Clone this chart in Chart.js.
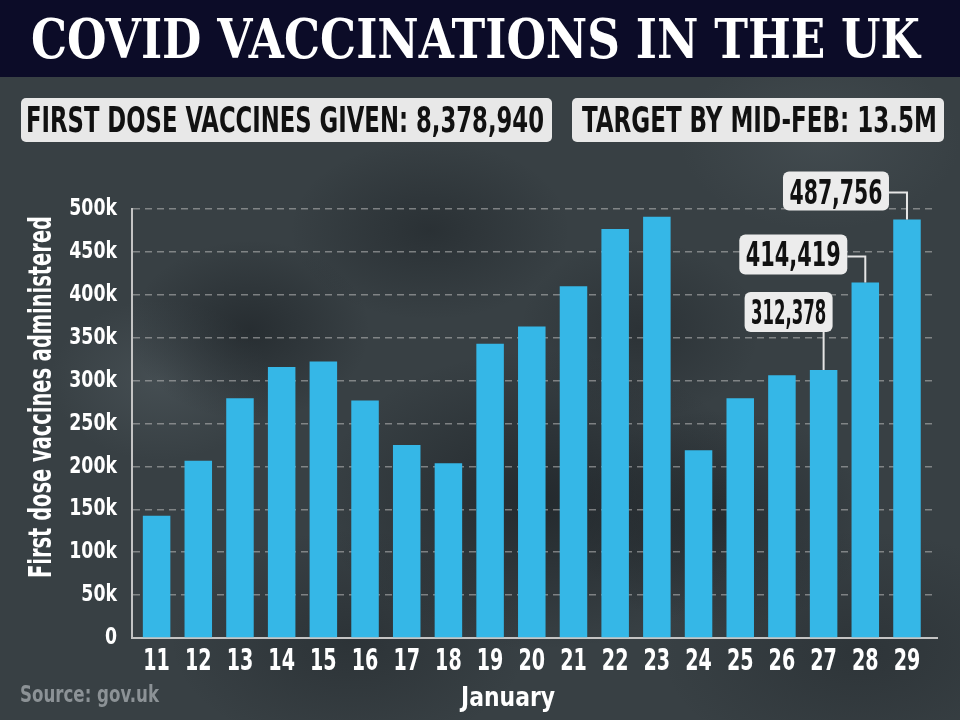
<!DOCTYPE html>
<html>
<head>
<meta charset="utf-8">
<script src="https://cdn.jsdelivr.net/npm/chart.js@4.4.1/dist/chart.umd.min.js"></script>
<style>
  html, body { margin: 0; padding: 0; }
  body {
    width: 960px; height: 720px; overflow: hidden; position: relative;
    background-color: #384044;
    background-image:
      radial-gradient(ellipse 120px 90px at 250px 330px, rgba(25,30,34,0.55), rgba(25,30,34,0) 100%),
      radial-gradient(ellipse 220px 150px at 540px 500px, rgba(22,27,31,0.6), rgba(22,27,31,0) 100%),
      radial-gradient(ellipse 150px 110px at 720px 520px, rgba(25,30,34,0.5), rgba(25,30,34,0) 100%),
      radial-gradient(ellipse 140px 90px at 430px 230px, rgba(25,30,34,0.45), rgba(25,30,34,0) 100%),
      radial-gradient(ellipse 120px 90px at 640px 330px, rgba(25,30,34,0.4), rgba(25,30,34,0) 100%),
      radial-gradient(ellipse 110px 80px at 160px 380px, rgba(85,95,100,0.45), rgba(85,95,100,0) 100%),
      radial-gradient(ellipse 140px 90px at 820px 140px, rgba(85,95,100,0.35), rgba(85,95,100,0) 100%),
      radial-gradient(ellipse 180px 110px at 350px 640px, rgba(30,35,39,0.45), rgba(30,35,39,0) 100%),
      radial-gradient(ellipse 200px 120px at 860px 650px, rgba(30,35,39,0.4), rgba(30,35,39,0) 100%);
  }
  canvas { position: absolute; left: 0; top: 0; }
</style>
</head>
<body>
<canvas id="chart" width="960" height="720"></canvas>
<script>
// ---- data ----
const days = [11, 12, 13, 14, 15, 16, 17, 18, 19, 20, 21, 22, 23, 24, 25, 26, 27, 28, 29];
const firstDoses = [142600, 206500, 279400, 315800, 322400, 276700, 225000, 203800, 343000, 363100,
                    410000, 476700, 491000, 218700, 279400, 306200, 312378, 414419, 487756];
const yTickValues = [0, 50000, 100000, 150000, 200000, 250000, 300000, 350000, 400000, 450000, 500000];
const annotatedDays = [27, 28, 29];
const annotatedLabels = ['312,378', '414,419', '487,756'];
const titleText = 'COVID VACCINATIONS IN THE UK';
const statLeft = 'FIRST DOSE VACCINES GIVEN: 8,378,940';
const statRight = 'TARGET BY MID-FEB: 13.5M';
const yTitle = 'First dose vaccines administered';
const xTitle = 'January';
const sourceText = 'Source: gov.uk';

const NARROW = "'Liberation Sans Narrow','Arial Narrow','DejaVu Sans Condensed','DejaVu Sans',sans-serif";
const SLAB = "'DejaVu Serif',serif";
const TICKFONT = "'DejaVu Sans Condensed','DejaVu Sans',sans-serif";

const canvas = document.getElementById('chart');
const c2d = canvas.getContext('2d');
// horizontal condensing of the tick-label font (marked by its size)
const origFillText = c2d.fillText.bind(c2d);
c2d.fillText = function (t, x, y, mw) {
  let s = 1;
  if (/29\.5px/.test(this.font)) s = 0.72;
  else if (/23\.5px/.test(this.font)) s = 0.82;
  if (s === 1) return mw === undefined ? origFillText(t, x, y) : origFillText(t, x, y, mw);
  this.save();
  this.translate(x, y);
  this.scale(s, 1);
  origFillText(t, 0, 0);
  this.restore();
};

function fitText(ctx, text, x, baseline, width, size, family, color, rotate) {
  ctx.save();
  ctx.font = 'bold ' + size + 'px ' + family;
  ctx.fillStyle = color;
  ctx.textBaseline = 'alphabetic';
  ctx.textAlign = 'left';
  const w = ctx.measureText(text).width;
  ctx.translate(x, baseline);
  if (rotate) ctx.rotate(-Math.PI / 2);
  ctx.scale(width / w, 1);
  ctx.fillText(text, 0, 0);
  ctx.restore();
}

function roundRect(ctx, x, y, w, h, r, fill) {
  ctx.beginPath();
  ctx.moveTo(x + r, y);
  ctx.arcTo(x + w, y, x + w, y + h, r);
  ctx.arcTo(x + w, y + h, x, y + h, r);
  ctx.arcTo(x, y + h, x, y, r);
  ctx.arcTo(x, y, x + w, y, r);
  ctx.closePath();
  ctx.fillStyle = fill;
  ctx.fill();
}

const decorPlugin = {
  id: 'decor',
  beforeDraw(chart) {
    const ctx = chart.ctx;
    ctx.save();
    ctx.fillStyle = '#0c0c28';
    ctx.fillRect(0, 0, 960, 77);
    ctx.restore();
    fitText(ctx, titleText, 31, 58, 889, 55, SLAB, '#ffffff');
    roundRect(ctx, 21, 98, 531, 44, 5, '#e8e8e8');
    roundRect(ctx, 572, 98, 372, 44, 5, '#e8e8e8');
    fitText(ctx, statLeft, 26, 132, 518, 36, NARROW, '#111111');
    fitText(ctx, statRight, 582, 132, 355, 36, NARROW, '#111111');
    fitText(ctx, yTitle, 51, 578, 362, 32, NARROW, '#ffffff', true);
    fitText(ctx, xTitle, 461, 706, 94, 26, NARROW, '#ffffff');
    fitText(ctx, sourceText, 20, 702, 139, 23, NARROW, '#8c9296');
  },
  afterDatasetsDraw(chart) {
    const ctx = chart.ctx;
    const xs = chart.scales.x, ys = chart.scales.y;
    const layouts = [
      { left: -79, right: 9, top: -78, bottom: -38, elbow: false },
      { left: -126, right: -18, top: -48, bottom: -8, elbow: true, ly: -26 },
      { left: -124, right: -18, top: -48, bottom: -9, elbow: true, ly: -27 }
    ];
    annotatedDays.forEach((d, k) => {
      const i = days.indexOf(d);
      const cx = xs.getPixelForValue(d);
      const ty = ys.getPixelForValue(firstDoses[i]);
      const L = layouts[k];
      const bx = cx + L.left, bw = L.right - L.left;
      const by = ty + L.top, bh = L.bottom - L.top;
      ctx.save();
      ctx.strokeStyle = '#e6e6e6';
      ctx.lineWidth = 2;
      ctx.beginPath();
      if (L.elbow) {
        ctx.moveTo(bx + bw, ty + L.ly);
        ctx.lineTo(cx, ty + L.ly);
        ctx.lineTo(cx, ty);
      } else {
        ctx.moveTo(cx, by + bh);
        ctx.lineTo(cx, ty);
      }
      ctx.stroke();
      ctx.restore();
      roundRect(ctx, bx, by, bw, bh, 6, '#ececec');
      fitText(ctx, annotatedLabels[k], bx + 6.5, by + 32, bw - 13, 33, NARROW, '#111111');
    });
  }
};

new Chart(canvas, {
  type: 'bar',
  data: {
    datasets: [{
      data: days.map((d, i) => ({ x: d, y: firstDoses[i] })),
      backgroundColor: '#35b7e7',
      borderWidth: 0,
      barPercentage: 0.66,
      categoryPercentage: 1
    }]
  },
  options: {
    responsive: false,
    animation: false,
    devicePixelRatio: 1,
    layout: { padding: { left: 0, right: 23, top: 209, bottom: 0 } },
    plugins: { legend: { display: false }, tooltip: { enabled: false }, title: { display: false } },
    scales: {
      x: {
        type: 'linear',
        offset: false,
        min: 10.41,
        max: 29.72,
        bounds: 'data',
        afterBuildTicks: s => { s.ticks = days.map(v => ({ value: v })); },
        afterFit: s => { s.height = 82; },
        grid: { display: false, drawTicks: false },
        border: { display: true, color: '#c4c4c4', width: 2 },
        ticks: {
          color: '#ffffff',
          font: { family: TICKFONT, size: 29.5, weight: 'bold' },
          padding: 7,
          maxRotation: 0,
          autoSkip: false,
          callback: v => String(v)
        }
      },
      y: {
        min: 0,
        max: 500000,
        afterBuildTicks: s => { s.ticks = yTickValues.map(v => ({ value: v })); },
        afterFit: s => { s.width = 132; },
        grid: {
          color: 'rgba(190,190,190,0.55)',
          lineWidth: 1.5,
          drawTicks: false
        },
        border: { display: true, color: '#c4c4c4', width: 2, dash: [7, 5] },
        ticks: {
          color: '#ffffff',
          font: { family: TICKFONT, size: 23.5, weight: 'bold' },
          padding: 15,
          callback: v => (v === 0 ? '0' : (v / 1000) + 'k')
        }
      }
    }
  },
  plugins: [decorPlugin]
});
</script>
</body>
</html>
